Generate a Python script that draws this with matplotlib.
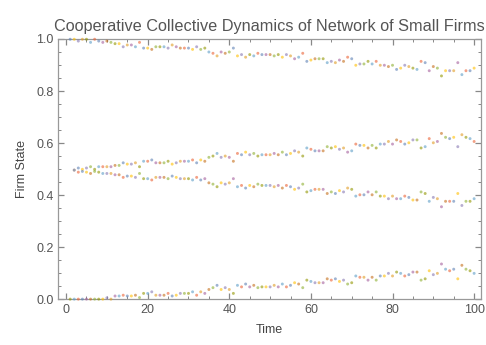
# Cooperative collective dynamics of a small-firm network, redrawn in matplotlib
import numpy as np
import matplotlib.pyplot as plt
from matplotlib.ticker import MultipleLocator, FormatStrFormatter

plt.rcParams['font.family'] = ['Liberation Sans', 'DejaVu Sans']

# time steps (the two middle firms show from t=2 on)
time = np.arange(1, 101)
mid_time = np.arange(2, 101)

# firm states
top_firm = [0.999, 0.999, 0.992, 0.999, 0.999, 0.987, 0.999, 0.992, 0.987, 0.992,
            0.987, 0.982, 0.982, 0.970, 0.977, 0.977, 0.970, 0.987, 0.965, 0.965,
            0.960, 0.970, 0.970, 0.970, 0.965, 0.977, 0.970, 0.965, 0.965, 0.965,
            0.960, 0.970, 0.960, 0.965, 0.950, 0.945, 0.935, 0.950, 0.945, 0.950,
            0.965, 0.935, 0.940, 0.930, 0.940, 0.935, 0.945, 0.940, 0.940, 0.940,
            0.935, 0.940, 0.930, 0.940, 0.935, 0.924, 0.930, 0.945, 0.914, 0.919,
            0.924, 0.924, 0.924, 0.909, 0.914, 0.909, 0.919, 0.914, 0.930, 0.924,
            0.899, 0.904, 0.904, 0.914, 0.904, 0.914, 0.899, 0.899, 0.894, 0.899,
            0.883, 0.888, 0.899, 0.894, 0.888, 0.883, 0.914, 0.909, 0.878, 0.894,
            0.888, 0.858, 0.878, 0.878, 0.878, 0.909, 0.863, 0.878, 0.878, 0.888]

upper_mid_firm = [0.496, 0.504, 0.499, 0.504, 0.509, 0.499, 0.509, 0.509, 0.509,
                  0.509, 0.514, 0.514, 0.524, 0.519, 0.519, 0.524, 0.509, 0.530, 0.530,
                  0.535, 0.524, 0.524, 0.524, 0.530, 0.519, 0.524, 0.530, 0.530, 0.530,
                  0.535, 0.524, 0.535, 0.530, 0.545, 0.550, 0.560, 0.545, 0.550, 0.545,
                  0.530, 0.560, 0.555, 0.565, 0.555, 0.560, 0.550, 0.555, 0.555, 0.555,
                  0.560, 0.555, 0.565, 0.555, 0.560, 0.570, 0.565, 0.550, 0.581, 0.576,
                  0.570, 0.570, 0.570, 0.586, 0.581, 0.586, 0.576, 0.581, 0.565, 0.570,
                  0.596, 0.591, 0.591, 0.581, 0.591, 0.581, 0.596, 0.596, 0.606, 0.596,
                  0.612, 0.606, 0.596, 0.601, 0.612, 0.612, 0.581, 0.586, 0.617, 0.601,
                  0.606, 0.637, 0.622, 0.617, 0.622, 0.586, 0.632, 0.622, 0.617, 0.606]

lower_mid_firm = [0.496, 0.488, 0.491, 0.488, 0.483, 0.491, 0.488, 0.483, 0.483,
                  0.483, 0.478, 0.478, 0.468, 0.473, 0.473, 0.468, 0.483, 0.463, 0.463,
                  0.458, 0.468, 0.468, 0.468, 0.463, 0.473, 0.468, 0.463, 0.463, 0.463,
                  0.458, 0.468, 0.458, 0.463, 0.447, 0.442, 0.432, 0.447, 0.442, 0.447,
                  0.463, 0.432, 0.437, 0.427, 0.437, 0.432, 0.442, 0.437, 0.437, 0.437,
                  0.432, 0.437, 0.427, 0.437, 0.432, 0.422, 0.427, 0.442, 0.412, 0.417,
                  0.422, 0.422, 0.422, 0.406, 0.412, 0.406, 0.417, 0.412, 0.427, 0.422,
                  0.396, 0.401, 0.401, 0.412, 0.401, 0.412, 0.396, 0.396, 0.386, 0.396,
                  0.386, 0.386, 0.396, 0.391, 0.381, 0.381, 0.412, 0.406, 0.376, 0.391,
                  0.386, 0.355, 0.376, 0.376, 0.376, 0.406, 0.360, 0.376, 0.376, 0.386]

bottom_firm = [0.0, 0.0, 0.0, 0.0, 0.0, 0.0, 0.0, 0.0, 0.0, 0.005,
               0.0, 0.012, 0.012, 0.015, 0.012, 0.012, 0.015, 0.006, 0.022, 0.022,
               0.028, 0.015, 0.015, 0.015, 0.022, 0.012, 0.015, 0.022, 0.022, 0.022,
               0.028, 0.015, 0.028, 0.022, 0.037, 0.044, 0.053, 0.037, 0.044, 0.037,
               0.022, 0.053, 0.047, 0.058, 0.047, 0.053, 0.044, 0.047, 0.047, 0.047,
               0.053, 0.047, 0.058, 0.047, 0.053, 0.063, 0.058, 0.044, 0.073, 0.068,
               0.063, 0.063, 0.063, 0.078, 0.073, 0.078, 0.068, 0.073, 0.058, 0.063,
               0.089, 0.084, 0.084, 0.073, 0.084, 0.073, 0.089, 0.089, 0.099, 0.089,
               0.104, 0.099, 0.089, 0.094, 0.104, 0.104, 0.073, 0.078, 0.109, 0.094,
               0.099, 0.135, 0.115, 0.109, 0.115, 0.078, 0.130, 0.115, 0.109, 0.099]

# Mathematica-like point colours, cycled over the dots
palette = ['#5E81B5', '#E19C24', '#8FB032', '#EB6235', '#8778B3',
           '#C56E1A', '#5D9EC7', '#FFBF00', '#A5609D', '#929600']

series = [(time, top_firm), (mid_time, upper_mid_firm),
          (mid_time, lower_mid_firm), (time, bottom_firm)]

fig = plt.figure(figsize=(4.86, 3.45), dpi=100)
ax = fig.add_axes([0.120, 0.133, 0.869, 0.754])

for k, (t, vals) in enumerate(series):
    cols = [palette[(i * 7 + k * 3 + (i // 4)) % len(palette)] for i in range(len(vals))]
    ax.scatter(t, vals, c=cols, marker='o', s=4.5, alpha=0.6,
               linewidths=0, clip_on=False, zorder=3)

ax.set_xlim(-1.9, 101.6)
ax.set_ylim(0, 1)

ax.xaxis.set_major_locator(MultipleLocator(20))
ax.xaxis.set_minor_locator(MultipleLocator(5))
ax.yaxis.set_major_locator(MultipleLocator(0.2))
ax.yaxis.set_minor_locator(MultipleLocator(0.05))
ax.yaxis.set_major_formatter(FormatStrFormatter('%.1f'))

ax.tick_params(which='both', direction='in', top=True, right=True,
               color='#888888', labelcolor='#555555', labelsize=9)
ax.tick_params(which='major', length=4.5, width=0.9)
ax.tick_params(which='minor', length=2.5, width=0.7)
for side in ax.spines.values():
    side.set_color('#999999')
    side.set_linewidth(0.9)

ax.set_title('Cooperative Collective Dynamics of Network of Small Firms',
             fontsize=11.7, color='#555555', pad=6)
ax.set_xlabel('Time', fontsize=9, color='#444444', labelpad=6)
ax.set_ylabel('Firm State', fontsize=9, color='#444444', labelpad=6)

fig.savefig('out.png', dpi=100)
